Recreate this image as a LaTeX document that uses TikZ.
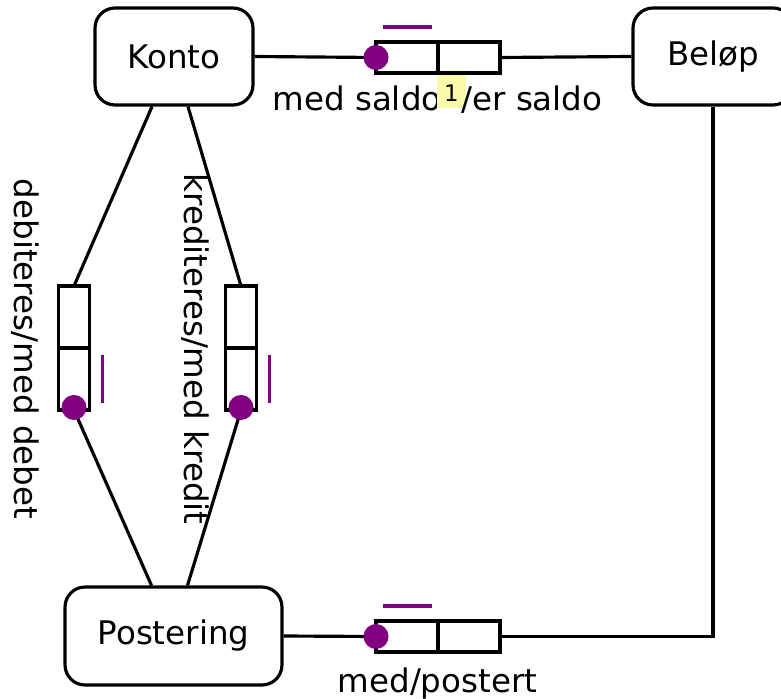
\documentclass[tikz,border=0pt]{standalone}
\usepackage{fontspec}
\setmainfont{DejaVu Sans}
\usepackage{tikz}
\usetikzlibrary{positioning, calc}
\usepackage{xcolor}
\definecolor{ormpurple}{RGB}{128,0,128}
\definecolor{hilite}{RGB}{250,250,170}

\begin{document}
\begin{tikzpicture}[x=0.02cm, y=-0.02cm,
    font=\fontsize{18.5}{22}\selectfont,
    entity/.style={rectangle, draw, rounded corners=0.4cm, line width=1.8pt, minimum width=3.16cm, minimum height=1.94cm, align=center},
    role/.style={rectangle, draw, line width=1.8pt, outer sep=0pt, minimum width=1.24cm, minimum height=0.62cm, inner sep=0pt},
    vrole/.style={role, minimum width=0.62cm, minimum height=1.24cm},
    link/.style={draw, line width=1.8pt},
    dot/.style={circle, fill=ormpurple, inner sep=0pt, minimum size=0.5cm},
    uniq/.style={draw=ormpurple, line width=1.8pt}
]
    \useasboundingbox (0,0) rectangle (781,699);

    % Labels
    \node[anchor=base] (saldolbl) at (437.5,111) {med saldo\kern1.5pt\raisebox{5.5pt}{\fontsize{13}{13}\selectfont\makebox[8.3pt]{\smash{\fboxsep=2pt\colorbox{hilite}{\hspace{2.3pt}\rule[-2pt]{0pt}{18pt}1\hspace{2.3pt}}}}}\kern1.5pt/er saldo};
    \node[anchor=base] (postlbl) at (437.5,692) {med/postert};
    \node[rotate=-90] (deblbl) at (25,349) {debiteres/med debet};
    \node[rotate=-90] (kredlbl) at (195,349) {krediteres/med kredit};

    % Entities
    \node[entity] (konto) at (174,56.5) {Konto};
    \node[entity, minimum width=3.2cm] (belop) at (713,56.5) {Beløp};
    \node[entity, minimum width=4.34cm, minimum height=1.96cm] (postering) at (173.5,636) {Postering};

    % Roles
    \node[role] (saldo1) at (407,57.5) {};
    \node[role, right=0pt of saldo1] (saldo2) {};
    \node[vrole] (deb1) at (74,317) {};
    \node[vrole, below=0pt of deb1] (deb2) {};
    \node[vrole] (kred1) at (241,317) {};
    \node[vrole, below=0pt of kred1] (kred2) {};
    \node[role] (post1) at (407,636.5) {};
    \node[role, right=0pt of post1] (post2) {};

    % Connections
    \draw[link] (konto.east) -- (saldo1.west);
    \draw[link] (saldo2.east) -- (belop.west);
    \draw[link] ([xshift=-0.44cm]konto.south) -- (deb1.north);
    \draw[link] ([xshift=0.28cm]konto.south) -- (kred1.north);
    \draw[link] (deb2.south) -- ([xshift=-0.44cm]postering.north);
    \draw[link] (kred2.south) -- ([xshift=0.28cm]postering.north);
    \draw[link] (postering.east) -- (post1.west);
    \draw[link] (post2.east) -| (belop.south);

    % Mandatory dots
    \node[dot] (saldodot) at (saldo1.west) {};
    \node[dot] (debdot) at ([yshift=0.05cm]deb2.south) {};
    \node[dot] (kreddot) at ([yshift=0.05cm]kred2.south) {};
    \node[dot] (postdot) at (post1.west) {};

    % Uniqueness
    \draw[uniq] ($(saldo1.north west)+(7,-15)$) -- ($(saldo1.north east)+(-6,-15)$);
    \draw[uniq] ($(post1.north west)+(7,-15)$) -- ($(post1.north east)+(-6,-15)$);
    \draw[uniq] ($(deb2.north east)+(13,7)$) -- ($(deb2.south east)+(13,-7)$);
    \draw[uniq] ($(kred2.north east)+(13,7)$) -- ($(kred2.south east)+(13,-7)$);
\end{tikzpicture}
\end{document}
